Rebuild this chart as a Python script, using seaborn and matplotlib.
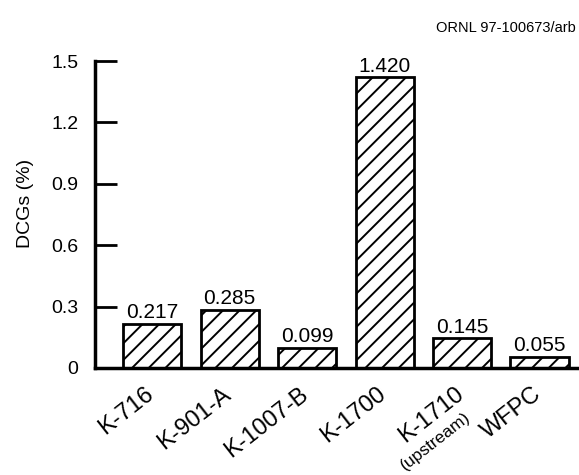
import matplotlib
matplotlib.use('Agg')
import matplotlib.pyplot as plt
import matplotlib.transforms as mtransforms
import seaborn as sns
import pandas as pd

sites = ['K-716', 'K-901-A', 'K-1007-B', 'K-1700', 'K-1710', 'WFPC']
dcgs = [0.217, 0.285, 0.099, 1.420, 0.145, 0.055]
value_labels = ['0.217', '0.285', '0.099', '1.420', '0.145', '0.055']
y_ticks = [0, 0.3, 0.6, 0.9, 1.2, 1.5]
y_tick_labels = ['0', '0.3', '0.6', '0.9', '1.2', '1.5']


def main():
    sns.set_style('ticks')
    plt.rcParams['font.family'] = ['Liberation Sans', 'DejaVu Sans']
    plt.rcParams['hatch.linewidth'] = 1.4
    plt.rcParams['text.color'] = 'black'
    plt.rcParams['xtick.color'] = 'black'
    plt.rcParams['ytick.color'] = 'black'
    plt.rcParams['axes.labelcolor'] = 'black'
    plt.rcParams['axes.edgecolor'] = 'black'

    df = pd.DataFrame({'site': sites, 'dcgs': dcgs})

    fig = plt.figure(figsize=(5.79, 4.75), dpi=100)
    ax = fig.add_axes([95 / 579, 107 / 475, 1 - 95 / 579, 307 / 475])

    sns.barplot(data=df, x='site', y='dcgs', color='white', edgecolor='black',
                linewidth=2, width=0.75, ax=ax, saturation=1)
    for p in ax.patches:
        p.set_hatch('//')
        p.set_facecolor('white')

    ax.bar_label(ax.containers[0], labels=value_labels, padding=1, fontsize=15)

    ax.set_ylim(0, 1.5)
    ax.set_xlim(-0.74, 5.51)
    ax.set_yticks(y_ticks)
    ax.set_yticklabels(y_tick_labels, fontsize=14)
    ax.tick_params(axis='y', direction='in', length=16, width=2, pad=12)
    ax.tick_params(axis='x', length=0, pad=11)
    ax.set_xticks(range(len(sites)))
    ax.set_xticklabels(sites, fontsize=17, rotation=38, ha='right',
                       va='top', rotation_mode='anchor')
    # nudge the slanted labels a little to the left
    shift = mtransforms.ScaledTranslation(-0.08, 0, fig.dpi_scale_trans)
    for lbl in ax.get_xticklabels():
        lbl.set_transform(lbl.get_transform() + shift)
    ax.set_xlabel('')
    ax.set_ylabel('DCGs (%)', fontsize=14)
    ax.yaxis.set_label_coords(-0.127, 0.537)

    for side in ['top', 'right']:
        ax.spines[side].set_visible(False)
    ax.spines['left'].set_linewidth(2.5)
    ax.spines['bottom'].set_linewidth(2.5)

    # smaller "(upstream)" under K-1710
    trans = mtransforms.blended_transform_factory(ax.transData, ax.transAxes)
    ax.text(4.03, -0.135, '(upstream)', transform=trans, fontsize=12.5,
            rotation=38, ha='right', va='top', rotation_mode='anchor')

    fig.text(0.995, 0.94, 'ORNL 97-100673/arb', fontsize=10.5, ha='right',
             va='center')

    fig.savefig('out.png', dpi=100)
    plt.close(fig)


if __name__ == '__main__':
    main()
